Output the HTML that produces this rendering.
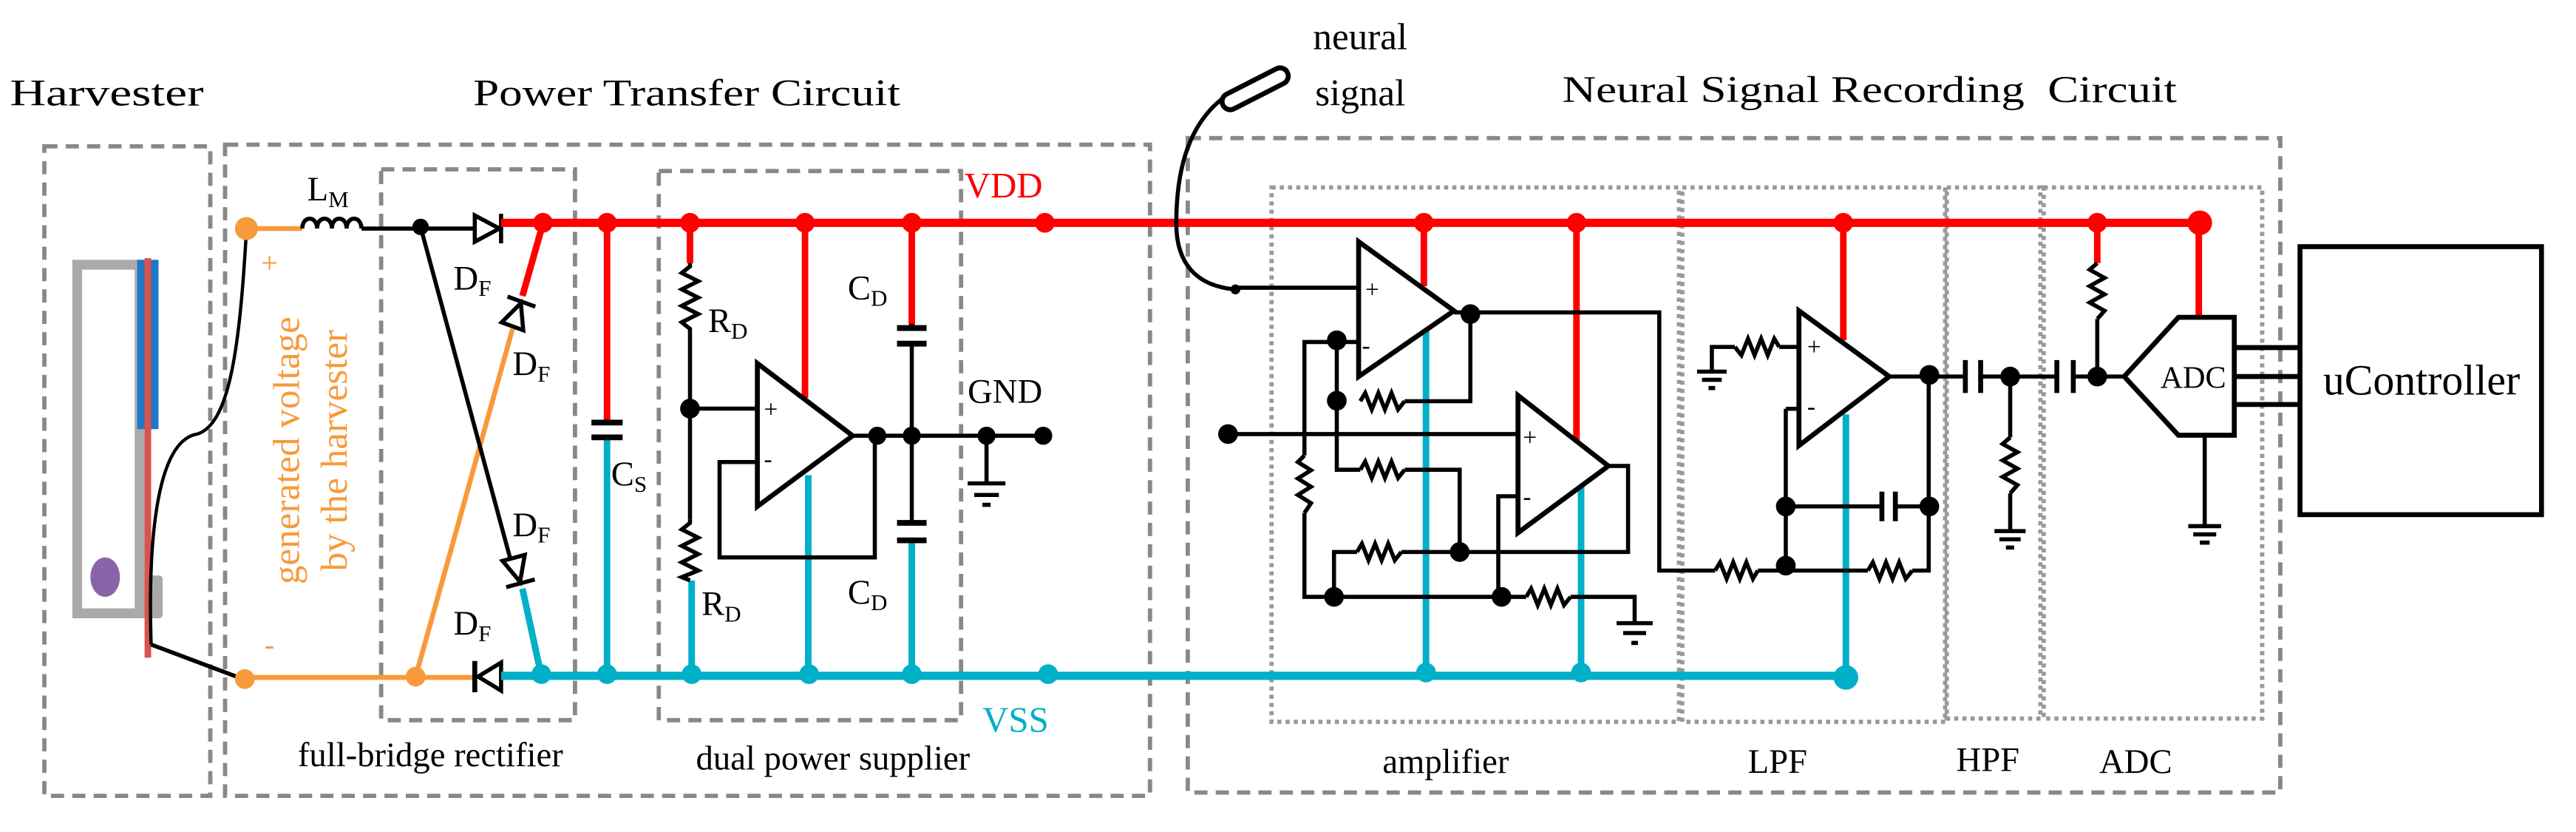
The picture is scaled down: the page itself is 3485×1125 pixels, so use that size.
<!DOCTYPE html>
<html><head><meta charset="utf-8"><style>
html,body{margin:0;padding:0;background:#fff;}
svg{display:block;}
</style></head><body>
<svg width="3485" height="1125" viewBox="0 0 1568 506" preserveAspectRatio="none" xmlns="http://www.w3.org/2000/svg">
<rect width="1568" height="506" fill="#fff"/>
<!-- titles -->
<g font-size="23" fill="#000" font-family="Liberation Serif, serif">
<text x="6" y="64" textLength="118" lengthAdjust="spacingAndGlyphs">Harvester</text>
<text x="288" y="64" textLength="260" lengthAdjust="spacingAndGlyphs">Power Transfer Circuit</text>
<text x="951" y="62" textLength="374" lengthAdjust="spacingAndGlyphs">Neural Signal Recording&#160; Circuit</text>
<text x="828" y="30" text-anchor="middle">neural</text>
<text x="828" y="64" text-anchor="middle">signal</text>
</g>
<g font-size="21" fill="#000" text-anchor="middle" font-family="Liberation Serif, serif">
<text x="262" y="466">full-bridge rectifier</text>
<text x="507" y="468">dual power supplier</text>
<text x="880" y="470">amplifier</text>
<text x="1082" y="470">LPF</text>
<text x="1210" y="469">HPF</text>
<text x="1300" y="470">ADC</text>
</g>
<!-- dashed boxes -->
<g fill="none" stroke="#888" stroke-width="2.6" stroke-dasharray="8,5">
<rect x="27" y="89" width="101" height="395"/>
<rect x="137" y="88" width="563" height="396"/>
<rect x="232" y="103" width="118" height="335"/>
<rect x="401" y="104" width="184" height="334"/>
<rect x="723" y="84" width="665" height="398"/>
</g>
<g fill="none" stroke="#999" stroke-width="2.6" stroke-dasharray="2.5,2.5">
<rect x="774" y="114" width="248" height="325"/>
<rect x="1024" y="114" width="160" height="325"/>
<rect x="1185" y="114" width="57" height="323"/>
<rect x="1244" y="114" width="133" height="323"/>
</g>
<!-- uController -->
<rect x="1400" y="150" width="147" height="163" fill="none" stroke="#000" stroke-width="3"/>
<text x="1474" y="240" font-size="26" text-anchor="middle" font-family="Liberation Serif, serif">uController</text>
<!-- harvester device -->
<rect x="47" y="161" width="38" height="212" fill="none" stroke="#aaa" stroke-width="6"/>
<rect x="84" y="350" width="15" height="26" rx="2" fill="#aaa"/>
<rect x="83.5" y="158" width="13" height="103" fill="#1f78c8"/>
<rect x="88" y="157" width="4" height="243" fill="#d9534f"/>
<ellipse cx="64" cy="351" rx="9" ry="12" fill="#8a64a8"/>
<path d="M92 392 C90 330 95 268 120 264 C140 258 146 210 150 140" fill="none" stroke="#000" stroke-width="2"/>
<path d="M92 392 L148 413" fill="none" stroke="#000" stroke-width="2.5"/>
<!-- orange -->
<g stroke="#f79a3c" stroke-width="3" fill="none">
<path d="M150 139 H184"/>
<path d="M149 412 H289"/>
<path d="M312 200 L253 411.5"/>
</g>
<circle cx="150" cy="139" r="7" fill="#f79a3c"/>
<circle cx="149" cy="413" r="6" fill="#f79a3c"/>
<circle cx="253" cy="411.5" r="6" fill="#f79a3c"/>
<g font-family="Liberation Serif, serif" fill="#f79a3c" text-anchor="middle">
<text x="164" y="166" font-size="18">+</text>
<text x="164" y="398" font-size="18">-</text>
<text font-size="23" transform="translate(182,274) rotate(-90)">generated voltage</text>
<text font-size="23" transform="translate(211,274) rotate(-90)">by the harvester</text>
</g>
<!-- inductor -->
<path d="M184 139 c0 -8 9 -8 9 0 c0 -8 9 -8 9 0 c0 -8 9 -8 9 0 c0 -8 9 -8 9 0" fill="none" stroke="#000" stroke-width="2.5"/>
<text x="187" y="122" font-size="21" font-family="Liberation Serif, serif">L<tspan font-size="14" dy="4">M</tspan></text>
<!-- rectifier -->
<g stroke="#000" stroke-width="2.5" fill="none">
<path d="M220 139 H289"/>
<path d="M256 138 L312 345"/>
<polygon points="289,131 289,147 304,139" fill="#fff"/>
<path d="M305 130 V148"/>
<path d="M289 402 V421" stroke-width="3"/>
<polygon points="305,403 305,420 291,411.5" fill="#fff"/>
<g transform="translate(315,190) rotate(-70)"><polygon points="-9,-7 -9,7 6,0" fill="#fff"/><path d="M7 -9 V9"/></g>
<g transform="translate(315,348) rotate(75)"><polygon points="-9,-7 -9,7 6,0" fill="#fff"/><path d="M7 -9 V9"/></g>
</g>
<circle cx="256" cy="138" r="5" fill="#000"/>
<g font-size="21" fill="#000" font-family="Liberation Serif, serif">
<text x="276" y="176">D<tspan font-size="14" dy="4">F</tspan></text>
<text x="312" y="228">D<tspan font-size="14" dy="4">F</tspan></text>
<text x="312" y="326">D<tspan font-size="14" dy="4">F</tspan></text>
<text x="276" y="386">D<tspan font-size="14" dy="4">F</tspan></text>
</g>
<!-- red lines -->
<g stroke="#ff0000" stroke-width="5" fill="none">
<path d="M305 135.5 H1340"/>
<path d="M330.5 136 L318 180" stroke-width="4"/>
<path d="M369.5 136 V256" stroke-width="4"/>
<path d="M420 136 V160" stroke-width="4"/>
<path d="M490 136 V242" stroke-width="4"/>
<path d="M555 136 V197" stroke-width="4"/>
<path d="M866.7 136 V174" stroke-width="4"/>
<path d="M959.6 136 V268" stroke-width="4"/>
<path d="M1122 136 V207" stroke-width="4"/>
<path d="M1276.6 136 V160" stroke-width="4"/>
<path d="M1338.4 136 V193" stroke-width="4"/>
</g>
<g fill="#ff0000">
<circle cx="330.5" cy="135.5" r="6"/><circle cx="369.5" cy="135.5" r="6"/><circle cx="420" cy="135.5" r="6"/>
<circle cx="490" cy="135.5" r="6"/><circle cx="555" cy="135.5" r="6"/><circle cx="636" cy="135.5" r="6"/>
<circle cx="866.7" cy="135.5" r="6"/><circle cx="959.6" cy="135.5" r="6"/><circle cx="1122" cy="135.5" r="6"/>
<circle cx="1276.6" cy="135.5" r="6"/><circle cx="1339" cy="135.5" r="7.5"/>
</g>
<text x="587" y="120" font-size="22" fill="#ff0000" font-family="Liberation Serif, serif">VDD</text>
<!-- cyan lines -->
<g stroke="#00afc8" stroke-width="5" fill="none">
<path d="M305 411 H1124"/>
<path d="M318 358 L329.5 411" stroke-width="4"/>
<path d="M369.5 266 V411" stroke-width="4"/>
<path d="M421 353 V411" stroke-width="4"/>
<path d="M492 289 V411" stroke-width="4"/>
<path d="M555 329 V411" stroke-width="4"/>
<path d="M868 200 V411" stroke-width="4"/>
<path d="M962.4 294 V411" stroke-width="4"/>
<path d="M1123.6 252 V411" stroke-width="4"/>
</g>
<g fill="#00afc8">
<circle cx="329.5" cy="410" r="6"/><circle cx="369.5" cy="410" r="6"/><circle cx="421" cy="410" r="6"/>
<circle cx="492.5" cy="410" r="6"/><circle cx="555" cy="410" r="6"/><circle cx="638" cy="410" r="6"/>
<circle cx="868" cy="409" r="6"/><circle cx="962.4" cy="409" r="6"/><circle cx="1123.6" cy="412" r="7.5"/>
</g>
<text x="598" y="445" font-size="22" fill="#00afc8" font-family="Liberation Serif, serif">VSS</text>
<!-- dual power supplier -->
<g stroke="#000" stroke-width="2.5" fill="none">
<path d="M360 257 H379 M360 266 H379" stroke-width="3.5"/>
<polyline points="420,160 420,162 415,166 425,171 415,176 425,181 415,186 425,191 415,196 420,200 420,202" stroke-width="2.5"/>
<path d="M420 202 V316"/>
<polyline points="420,316 420,318 415,322 425,327 415,332 425,337 415,342 425,347 415,351 420,353"/>
<path d="M420 248.5 H461"/>
<polygon points="461,221 461,308 519,265" fill="#fff" stroke-width="3"/>
<path d="M461 281 H438 V339 H532.5 V265"/>
<path d="M519 265 H636"/>
<path d="M555 197 V200 M546 199.5 H564 M546 209 H564" stroke-width="3.5"/>
<path d="M555 209 V318"/>
<path d="M546 318 H564 M546 328.6 H564" stroke-width="3.5"/>
<path d="M555 329 V330"/>
<path d="M600.5 265 V294 M589 294 H612 M593 301 H608 M598 307 H603"/>
</g>
<g fill="#000"><circle cx="420" cy="248.5" r="6"/><circle cx="534" cy="265" r="5.5"/><circle cx="555" cy="265" r="5.5"/><circle cx="600.5" cy="265" r="5.5"/><circle cx="635" cy="265" r="5.5"/></g>
<g font-size="21" fill="#000" font-family="Liberation Serif, serif">
<text x="465" y="254" font-size="15">+</text>
<text x="465" y="284" font-size="15">-</text>
<text x="372" y="295">C<tspan font-size="14" dy="4">S</tspan></text>
<text x="431" y="202">R<tspan font-size="14" dy="4">D</tspan></text>
<text x="427" y="374">R<tspan font-size="14" dy="4">D</tspan></text>
<text x="516" y="182">C<tspan font-size="14" dy="4">D</tspan></text>
<text x="516" y="367">C<tspan font-size="14" dy="4">D</tspan></text>
<text x="589" y="245">GND</text>
</g>
<!-- electrode -->
<g transform="translate(764,54) rotate(-27)"><rect x="-22" y="-5" width="44" height="10" rx="5" fill="#fff" stroke="#000" stroke-width="3"/></g>
<path d="M744 60 C725 75 716 100 716 136 C716 160 728 174 752 176" fill="none" stroke="#000" stroke-width="2.5"/>
<!-- amplifier -->
<g stroke="#000" stroke-width="2.5" fill="none">
<path d="M752 175 H827"/>
<polygon points="827,147 827,229 885,189" fill="#fff" stroke-width="3"/>
<path d="M885 190 H1010 V347 H1044"/>
<path d="M813.7 208 H827"/>
<path d="M813.7 208 H794 V277"/>
<polyline points="794,277 790,281 798,286 790,291 798,296 790,301 798,306 794,312"/>
<path d="M794 312 V363 H914 H929"/>
<polyline points="929,363 932,358 936,368 940,358 944,368 948,358 952,368 956,363"/>
<path d="M956 363 H995 V379 M984 379 H1006 M988 385 H1002 M993 391 H997"/>
<path d="M813.7 208 V285.7 H828"/>
<polyline points="828,244 831,239 835,249 839,239 843,249 847,239 851,249 855,244"/>
<path d="M855 244 H895 V191"/>
<polyline points="828,285.7 831,280.7 835,290.7 839,280.7 843,290.7 847,280.7 851,290.7 855,285.7"/>
<path d="M855 285.7 H888.5 V335.7"/>
<path d="M747.5 264 H924"/>
<polygon points="924,240.5 924,324 979,283.4" fill="#fff" stroke-width="3"/>
<path d="M979 283.4 H991 V335.7 H853"/>
<polyline points="826,335.7 829,330.7 833,340.7 837,330.7 841,340.7 845,330.7 849,340.7 853,335.7"/>
<path d="M826 335.7 H812 V363"/>
<path d="M924 301.8 H912 V363"/>
</g>
<g font-size="15" fill="#000" font-family="Liberation Serif, serif">
<text x="831" y="181">+</text>
<text x="829" y="215">-</text>
<text x="927" y="271">+</text>
<text x="927" y="307">-</text>
<text x="1100" y="216">+</text>
<text x="1100" y="252">-</text>
<text x="1335" y="236" font-size="19" text-anchor="middle">ADC</text>
</g>
<g fill="#000"><circle cx="752" cy="176" r="3"/><circle cx="895" cy="191" r="6"/><circle cx="813.7" cy="207" r="6"/><circle cx="813.7" cy="243.7" r="6"/><circle cx="747.5" cy="264" r="6"/><circle cx="888.5" cy="335.7" r="6"/><circle cx="812" cy="363" r="6"/><circle cx="914" cy="363" r="6"/></g>
<!-- LPF -->
<g stroke="#000" stroke-width="2.5" fill="none">
<polyline points="1044,347 1047,342 1051,352 1055,342 1059,352 1063,342 1067,352 1070,347"/>
<path d="M1070 347 H1137"/>
<polyline points="1137,347 1140,342 1144,352 1148,342 1152,352 1156,342 1160,352 1164,347"/>
<path d="M1164 347 H1174 V228"/>
<path d="M1087 308 H1145 M1154 308 H1174"/>
<path d="M1145.5 299 V317 M1153.7 299 V317" stroke-width="3"/>
<path d="M1087 248.6 V347 M1087 248.6 H1095"/>
<polygon points="1095,189 1095,271 1150,229" fill="none" stroke-width="3"/>
<path d="M1095 211 H1083"/>
<polyline points="1083,211 1080,206 1076,216 1072,206 1068,216 1064,206 1060,216 1056,211"/>
<path d="M1056 211 H1042 V226 M1033 226 H1051 M1036 231 H1048 M1040 236 H1044"/>
<path d="M1150 229 H1196 M1205.6 229 H1252 M1262 229 H1293"/>
<path d="M1196.3 219 V239 M1205.6 219 V239 M1252 219 V239 M1262 219 V239" stroke-width="3"/>
<path d="M1223.6 229 V266"/>
<polyline points="1223.6,266 1219,270 1228,275 1219,280 1228,285 1219,290 1228,295 1223.6,300"/>
<path d="M1223.6 300 V323 M1214 323 H1233 M1217 328 H1230 M1221 333 H1226"/>
<polyline points="1276.6,160 1272,164 1281,169 1272,174 1281,179 1272,184 1281,189 1276.6,194"/>
<path d="M1276.6 194 V229"/>
<polygon points="1293,229 1326,193 1360,193 1360,264.7 1326,264.7" fill="none" stroke-width="3"/>
<path d="M1342 265 V320 M1332 320 H1352 M1335 325 H1349 M1339 330 H1345"/>
<path d="M1360 211.4 H1399 M1360 229 H1399 M1360 246 H1399" stroke-width="3"/>
</g>
<g fill="#000"><circle cx="1087" cy="308" r="6"/><circle cx="1174.4" cy="308" r="6"/><circle cx="1087" cy="344" r="6"/><circle cx="1174.4" cy="228" r="6"/><circle cx="1223.6" cy="229" r="6"/><circle cx="1276.6" cy="229" r="6"/></g>
</svg>
</body></html>
